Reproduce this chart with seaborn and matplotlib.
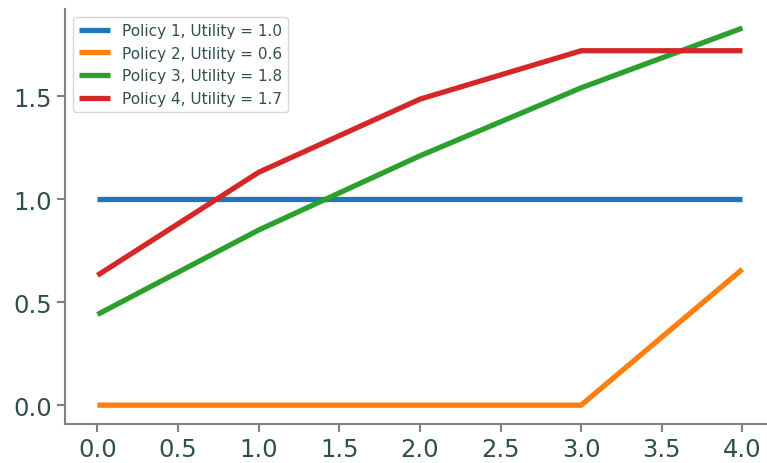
import pandas as pd
import seaborn as sns
import matplotlib.pyplot as plt

# data
steps = [0, 1, 2, 3, 4]
policy_1 = [1.0, 1.0, 1.0, 1.0, 1.0]
policy_2 = [0.0, 0.0, 0.0, 0.0, 0.66]
policy_3 = [0.44, 0.85, 1.21, 1.54, 1.83]
policy_4 = [0.63, 1.13, 1.485, 1.72, 1.72]
labels = ['Policy 1, Utility = 1.0', 'Policy 2, Utility = 0.6',
          'Policy 3, Utility = 1.8', 'Policy 4, Utility = 1.7']

rows = []
for name, vals in zip(labels, [policy_1, policy_2, policy_3, policy_4]):
    for s, v in zip(steps, vals):
        rows.append({'step': s, 'value': v, 'policy': name})
df = pd.DataFrame(rows)

sns.set_style('ticks')
text_col = '#2F4F4F'
plt.rcParams.update({
    'font.family': ['DejaVu Sans'],
    'text.color': text_col,
    'xtick.color': 'gray',
    'ytick.color': 'gray',
    'xtick.labelcolor': text_col,
    'ytick.labelcolor': text_col,
    'axes.edgecolor': 'gray',
    'axes.linewidth': 1.5,
    'xtick.major.size': 6,
    'ytick.major.size': 6,
    'xtick.major.width': 1.5,
    'ytick.major.width': 1.5,
})

fig, ax = plt.subplots(figsize=(7.67, 4.64), dpi=100)
sns.lineplot(data=df, x='step', y='value', hue='policy',
             palette='tab10', linewidth=3.8, ax=ax)
for line in ax.get_lines():
    line.set_solid_capstyle('butt')
ax.set_xlabel('')
ax.set_ylabel('')
ax.set_yticks([0.0, 0.5, 1.0, 1.5])
ax.set_xticks([0, 0.5, 1, 1.5, 2, 2.5, 3, 3.5, 4])
ax.tick_params(labelsize=17.5)
leg = ax.legend(loc='upper left', fontsize=11, title=None)
for line in leg.get_lines():
    line.set_linewidth(3.8)
    line.set_solid_capstyle('butt')
sns.despine(ax=ax)

plt.subplots_adjust(left=0.085, right=1.01, top=0.978, bottom=0.084)
plt.savefig('out.png')
